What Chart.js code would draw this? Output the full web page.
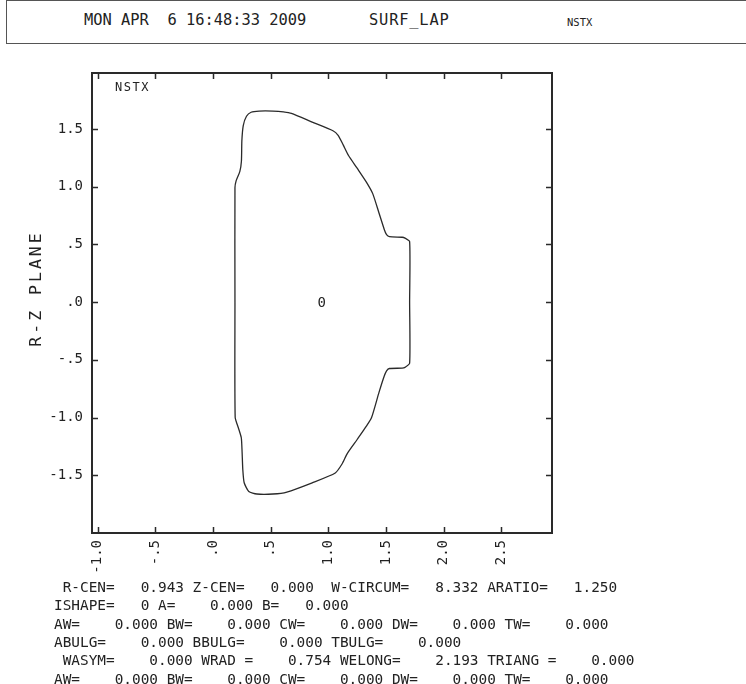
<!DOCTYPE html>
<html>
<head>
<meta charset="utf-8">
<script src="https://cdn.jsdelivr.net/npm/chart.js@4.4.1/dist/chart.umd.min.js"></script>
<style>
  html, body { margin: 0; padding: 0; background: #fff; }
  #page { position: relative; width: 746px; height: 684px; overflow: hidden; font-family: 'DejaVu Sans Mono', monospace; color: #222; }
  #chart-box { position: absolute; left: 0; top: 0; width: 746px; height: 684px; }
  #cabecera { position: absolute; left: 6px; top: 0; width: 800px; height: 42px; border: 1px solid #555; }
  .cab { position: absolute; white-space: pre; line-height: 1; }
  #datos { position: absolute; left: 54px; top: 578px; font-size: 14.4px; line-height: 18.35px; white-space: pre; }
</style>
</head>
<body>
<div id="page">
  <div id="cabecera"></div>
  <div class="cab" style="left:84px; top:13px; font-size:15.4px;">MON APR  6 16:48:33 2009</div>
  <div class="cab" style="left:369px; top:13px; font-size:15.4px; letter-spacing:0.8px;">SURF_LAP</div>
  <div class="cab" style="left:567px; top:17px; font-size:10.5px;">NSTX</div>
  <div id="chart-box"><canvas id="surf-chart"></canvas></div>
  <div id="datos"></div>
</div>
<script>
// ── DATOS ──
// Contorno de la superficie (R, Z)
var rContorno = [0.190, 0.190, 0.200, 0.232, 0.246, 0.250, 0.262, 0.290, 0.330, 0.400, 0.520, 0.610, 0.680, 0.860, 1.040, 1.085, 1.130, 1.175, 1.250, 1.330, 1.385, 1.440, 1.485, 1.505, 1.530, 1.640, 1.665, 1.705, 1.705,
                 1.705, 1.665, 1.640, 1.530, 1.505, 1.485, 1.440, 1.375, 1.330, 1.250, 1.165, 1.120, 1.060, 0.860, 0.640, 0.520, 0.380, 0.310, 0.270, 0.258, 0.252, 0.245, 0.220, 0.192, 0.190];
var zContorno = [0.000, 0.990, 1.050, 1.130, 1.220, 1.400, 1.530, 1.610, 1.645, 1.655, 1.655, 1.648, 1.635, 1.560, 1.485, 1.445, 1.360, 1.270, 1.160, 1.040, 0.940, 0.770, 0.630, 0.585, 0.567, 0.562, 0.555, 0.525, 0.000,
                 -0.530, -0.565, -0.572, -0.575, -0.595, -0.640, -0.780, -1.000, -1.075, -1.190, -1.310, -1.400, -1.480, -1.565, -1.645, -1.662, -1.662, -1.640, -1.565, -1.450, -1.300, -1.175, -1.090, -1.000, 0.000];

// Centro marcado con "0"
var rCentro = [0.943];
var zCentro = [0.000];

// Marcas de los ejes
var ticksR = [-1.0, -0.5, 0.0, 0.5, 1.0, 1.5, 2.0, 2.5];
var ticksZ = [-1.5, -1.0, -0.5, 0.0, 0.5, 1.0, 1.5];
var rangoR = [-1.05, 2.94];
var rangoZ = [-2.0, 1.985];

// Texto de parámetros bajo la gráfica
var lineasParametros = [
    ' R-CEN=   0.943 Z-CEN=   0.000  W-CIRCUM=   8.332 ARATIO=   1.250',
    'ISHAPE=   0 A=    0.000 B=   0.000',
    'AW=    0.000 BW=    0.000 CW=    0.000 DW=    0.000 TW=    0.000',
    'ABULG=    0.000 BBULG=    0.000 TBULG=    0.000',
    ' WASYM=    0.000 WRAD =    0.754 WELONG=    2.193 TRIANG =    0.000',
    'AW=    0.000 BW=    0.000 CW=    0.000 DW=    0.000 TW=    0.000'
];

document.getElementById('datos').textContent = lineasParametros.join('\n');

function fmtTick(v) {
    var s = Number(v).toFixed(1);
    return s.replace(/^(-?)0\./, '$1.');
}

var FUENTE = 'DejaVu Sans Mono';
var COLOR_LINEA = '#2a2a2a';

// marcas hacia adentro, marco superior/derecho y rótulos
var marcoPlugin = {
    id: 'marcoPlugin',
    afterDraw: function(chart) {
        var ctx = chart.ctx;
        var a = chart.chartArea;
        var sx = chart.scales.x, sy = chart.scales.y;
        ctx.save();
        ctx.strokeStyle = COLOR_LINEA;
        ctx.lineWidth = 1.5;
        ctx.beginPath();
        sx.ticks.forEach(function(t) {
            var px = Math.round(sx.getPixelForValue(t.value)) + 0.5;
            ctx.moveTo(px, a.bottom); ctx.lineTo(px, a.bottom - 6);
            ctx.moveTo(px, a.top); ctx.lineTo(px, a.top + 6);
        });
        sy.ticks.forEach(function(t) {
            var py = Math.round(sy.getPixelForValue(t.value)) + 0.5;
            ctx.moveTo(a.left, py); ctx.lineTo(a.left + 6, py);
            ctx.moveTo(a.right, py); ctx.lineTo(a.right - 6, py);
        });
        ctx.stroke();

        ctx.lineWidth = 2;
        ctx.beginPath();
        ctx.moveTo(a.left, a.top); ctx.lineTo(a.right, a.top); ctx.lineTo(a.right, a.bottom);
        ctx.stroke();

        // "0" en el centro
        var pt = chart.getDatasetMeta(1).data[0];
        ctx.fillStyle = '#222';
        ctx.font = '14px "' + FUENTE + '"';
        ctx.textAlign = 'center';
        ctx.textBaseline = 'middle';
        ctx.fillText('0', pt.x, pt.y + 1);

        // NSTX dentro del marco
        ctx.font = '12px "' + FUENTE + '"';
        ctx.textAlign = 'left';
        ctx.letterSpacing = '1.5px';
        ctx.fillText('NSTX', a.left + 23, a.top + 15);

        // título del eje vertical
        ctx.translate(37, 290);
        ctx.rotate(-Math.PI / 2);
        ctx.font = '16.5px "' + FUENTE + '"';
        ctx.letterSpacing = '3px';
        ctx.textAlign = 'center';
        ctx.fillText('R-Z PLANE', 1.5, 0);
        ctx.restore();
    }
};

var puntosContorno = rContorno.map(function(r, i) { return { x: r, y: zContorno[i] }; });
var puntosCentro = rCentro.map(function(r, i) { return { x: r, y: zCentro[i] }; });

new Chart(document.getElementById('surf-chart'), {
    type: 'scatter',
    data: {
        datasets: [{
            data: puntosContorno,
            showLine: true,
            borderColor: COLOR_LINEA,
            borderWidth: 1.3,
            pointRadius: 0,
            tension: 0.2,
            fill: false
        }, {
            data: puntosCentro,
            pointRadius: 0
        }]
    },
    options: {
        responsive: true, maintainAspectRatio: false,
        animation: false,
        devicePixelRatio: 1,
        layout: { padding: { left: 0, top: 73, right: 194, bottom: 101 } },
        plugins: { legend: { display: false }, tooltip: { enabled: false } },
        scales: {
            x: {
                type: 'linear', min: rangoR[0], max: rangoR[1],
                afterBuildTicks: function(s) { s.ticks = ticksR.map(function(v) { return { value: v }; }); },
                afterFit: function(s) { s.height = 50; },
                grid: { display: false, drawTicks: false },
                border: { display: true, color: COLOR_LINEA, width: 2 },
                ticks: {
                    minRotation: 90, maxRotation: 90, padding: 7,
                    color: '#222', font: { family: FUENTE, size: 14 },
                    callback: fmtTick
                }
            },
            y: {
                type: 'linear', min: rangoZ[0], max: rangoZ[1],
                afterBuildTicks: function(s) { s.ticks = ticksZ.map(function(v) { return { value: v }; }); },
                afterFit: function(s) { s.width = 92; },
                grid: { display: false, drawTicks: false },
                border: { display: true, color: COLOR_LINEA, width: 2 },
                ticks: {
                    padding: 9,
                    color: '#222', font: { family: FUENTE, size: 14 },
                    callback: fmtTick
                }
            }
        }
    },
    plugins: [marcoPlugin]
});
</script>
</body>
</html>
